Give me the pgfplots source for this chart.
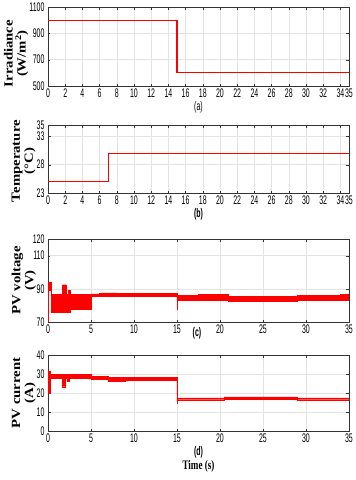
\documentclass[border=0pt]{standalone}
\usepackage{fontspec}
\setmainfont{Liberation Serif}
\setsansfont{Liberation Sans}
\newfontfamily\tickfont[FakeStretch=0.56]{Liberation Sans}
\newfontfamily\ylabfont[FakeStretch=1.18]{Liberation Serif}
\newfontfamily\timefont[FakeStretch=0.7]{Liberation Serif}
\usepackage{pgfplots}
\pgfplotsset{compat=1.18}
\pgfplotsset{
  panel/.style={
    scale only axis, width=301pt, anchor=south west,
    xmin=0, xmax=35,
    grid=major, major grid style={gray!22, line width=0.4pt},
    axis line style={black!80, line width=0.5pt},
    tick align=inside, major tick length=2.5pt, tick style={black!80},
    tick label style={font=\tickfont\fontsize{12.5}{13}\selectfont},
    xticklabel style={yshift=1pt},
    /pgf/number format/assume math mode=true,
    /pgf/number format/set thousands separator={},
    scaled y ticks=false,
    xlabel style={font=\tickfont\fontsize{12.5}{13}\selectfont, inner sep=1pt},
    ylabel style={font=\ylabfont\bfseries\fontsize{12.5}{13}\selectfont, align=center, rotate=0, anchor=center},
  },
  step/.style={red, line width=1.2pt, const plot},
}
\begin{document}
\begin{tikzpicture}
\useasboundingbox (0,0) rectangle (356pt,-480pt);
% (a) Irradiance
\begin{axis}[panel, at={(48pt,-86pt)}, height=79pt,
  ymin=500, ymax=1100, ytick={500,700,900,1100},
  xtick={0,2,4,6,8,10,12,14,16,18,20,22,24,26,28,30,32,34,35},
  xlabel={(a)},
  ylabel={Irradiance\\(W/m\textsuperscript{2})},
  ylabel style={at={(axis description cs:-0.106,0.41)}}]
\addplot[step] coordinates {(0,1000) (15,1000) (15,600) (35,600)};
\end{axis}
% (b) Temperature
\begin{axis}[panel, at={(48pt,-193pt)}, height=68pt,
  ymin=23, ymax=35, ytick={23,28,33,35},
  xtick={0,2,4,6,8,10,12,14,16,18,20,22,24,26,28,30,32,34,35},
  xlabel={\bfseries (b)},
  ylabel={Temperature\\(°C)},
  ylabel style={at={(axis description cs:-0.081,0.47)}}]
\addplot[step] coordinates {(0,25) (7,25) (7,30) (35,30)};
\end{axis}
% (c) PV voltage
\begin{axis}[panel, at={(48pt,-322pt)}, height=83pt,
  ymin=70, ymax=120, ytick={70,90,110,120},
  xtick={0,5,10,15,20,25,30,35},
  xlabel={\bfseries (c)},
  xlabel style={at={(axis description cs:0.495,0)}, anchor=north, yshift=-4pt},
  ylabel={PV voltage\\(V)},
  ylabel style={at={(axis description cs:-0.08,0.5)}}]
\addplot[fill=red, draw=red, line width=0.3pt] coordinates {
 (0.05,94) (0.35,94) (0.35,86.5) (1.7,86.5) (1.7,92.5) (2.1,92.5) (2.1,86.5)
 (2.4,86.5) (2.4,89) (2.6,89) (2.6,86.5) (5,86.5) (5,87) (6,87) (6,87.5)
 (8,87.5) (8,87.2) (15,87.2) (15,86) (17.5,86) (17.5,86.5) (21,86.5)
 (21,85.6) (29,85.6) (29,86) (34,86) (34,86.8) (35,86.8)
 (35,83.2) (29,83.2) (29,82.8) (21,82.8) (21,83.4) (15,83.4) (15,85.5)
 (5,85.5) (5,77.5) (2.6,77.5) (2.6,76) (0.35,76) (0.35,89) (0.05,89)} --cycle;
\addplot[red, line width=0.6pt] coordinates {(0.03,70) (0.03,94)};
\addplot[red, line width=0.6pt] coordinates {(15,86) (15,77)};
\end{axis}
% (d) PV current
\begin{axis}[panel, at={(48pt,-431pt)}, height=76pt,
  ymin=0, ymax=40, ytick={0,10,20,30,40},
  xtick={0,5,10,15,20,25,30,35},
  xlabel={\bfseries (d)\\[1pt]{\timefont\bfseries\fontsize{13}{14}\selectfont Time (s)}},
  xlabel style={align=center},
  ylabel={PV current\\(A)},
  ylabel style={at={(axis description cs:-0.08,0.5)}}]
\addplot[fill=red, draw=red, line width=0.3pt] coordinates {
 (0.05,31.5) (0.3,31.5) (0.3,29.8) (5,29.8) (5,28.8) (7,28.8) (7,28.2)
 (15,28.2) (15,17.4) (20.5,17.4) (20.5,17.9) (29,17.9) (29,17.4) (35,17.4)
 (35,16.5) (29,16.5) (29,16.8) (20.5,16.8) (20.5,16.5) (15,16.5) (15,26.8)
 (9,26.8) (9,26) (7,26) (7,27.2) (5,27.2) (5,27.7) (2.45,27.7) (2.45,26)
 (2.2,26) (2.2,27.7) (2.05,27.7) (2.05,23.3) (1.7,23.3) (1.7,27.7)
 (0.3,27.7) (0.3,20) (0.05,20)} --cycle;
\addplot[red, line width=0.6pt] coordinates {(0.03,32) (0.03,21)};
\addplot[red, line width=0.6pt] coordinates {(15,28) (15,14)};
\end{axis}
\end{tikzpicture}
\end{document}
